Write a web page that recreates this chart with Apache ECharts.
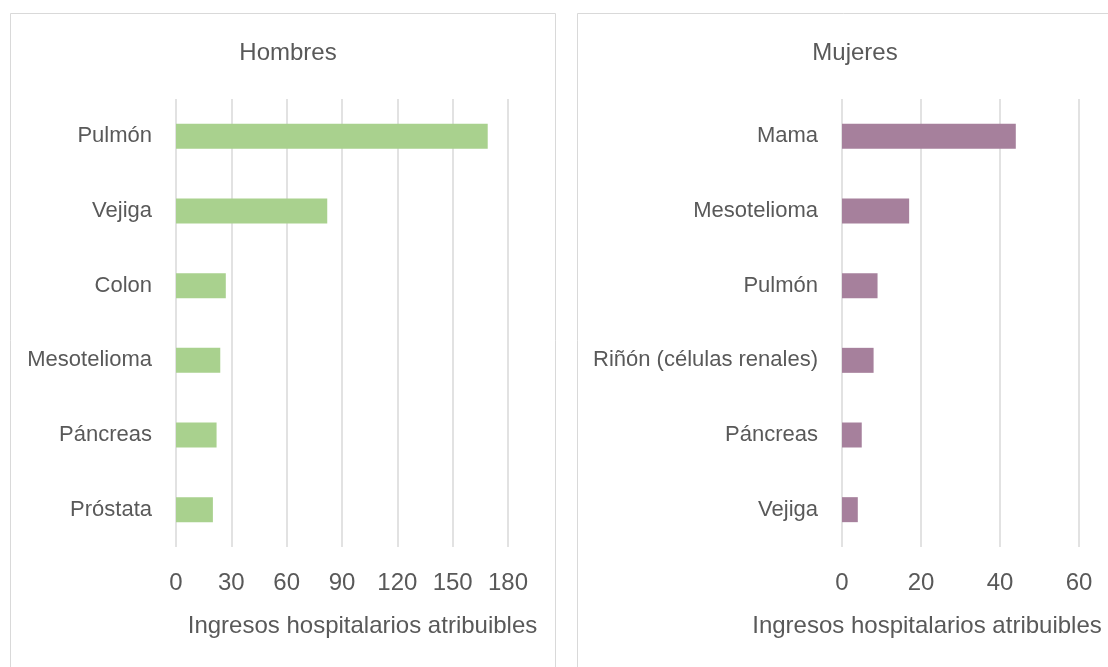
<!DOCTYPE html>
<html>
<head>
<meta charset="utf-8">
<script src="https://cdn.jsdelivr.net/npm/echarts@6/dist/echarts.min.js"></script>
<style>
  html, body { margin: 0; padding: 0; background: #ffffff; }
  #chart { width: 1108px; height: 667px; }
</style>
</head>
<body>
<div id="chart"></div>
<script>
// Ingresos hospitalarios atribuibles por tipo de cáncer
const hombresCategorias = ['Pulmón', 'Vejiga', 'Colon', 'Mesotelioma', 'Páncreas', 'Próstata'];
const hombresValores = [169, 82, 27, 24, 22, 20];
const mujeresCategorias = ['Mama', 'Mesotelioma', 'Pulmón', 'Riñón (células renales)', 'Páncreas', 'Vejiga'];
const mujeresValores = [44, 17, 9, 8, 5, 4];
const ejeNombre = 'Ingresos hospitalarios atribuibles';

const FONT = '"Liberation Sans Narrow", "Arial Narrow", "Liberation Sans", Arial, sans-serif';
const TEXT = '#595959';
const GRID_LINE = '#d9d9d9';

const chart = echarts.init(document.getElementById('chart'), null, { renderer: 'canvas' });

function catAxis(idx, cats) {
  return {
    type: 'category', gridIndex: idx, data: cats, inverse: true,
    axisLine: { show: false }, axisTick: { show: false },
    axisLabel: { color: TEXT, fontFamily: FONT, fontSize: 22, margin: 24 }
  };
}
function valAxis(idx, max, interval, namePad) {
  return {
    type: 'value', gridIndex: idx, min: 0, max: max, interval: interval,
    axisLine: { show: false }, axisTick: { show: false },
    splitLine: { show: true, lineStyle: { color: GRID_LINE, width: 1.5 } },
    axisLabel: { color: TEXT, fontFamily: FONT, fontSize: 24, margin: 24 },
    name: ejeNombre, nameLocation: 'middle', nameGap: 67,
    nameTextStyle: { color: TEXT, fontFamily: FONT, fontSize: 24, padding: namePad }
  };
}

chart.setOption({
  animation: false,
  backgroundColor: '#ffffff',
  title: [
    { text: 'Hombres', left: 283, top: 36, textAlign: 'center',
      textStyle: { color: TEXT, fontFamily: FONT, fontSize: 24, fontWeight: 'normal' } },
    { text: 'Mujeres', left: 850, top: 36, textAlign: 'center',
      textStyle: { color: TEXT, fontFamily: FONT, fontSize: 24, fontWeight: 'normal' } }
  ],
  graphic: [
    { type: 'rect', shape: { x: 10.5, y: 13.5, width: 545, height: 700 },
      style: { fill: 'none', stroke: GRID_LINE, lineWidth: 1 }, silent: true },
    { type: 'rect', shape: { x: 577.5, y: 13.5, width: 560, height: 700 },
      style: { fill: 'none', stroke: GRID_LINE, lineWidth: 1 }, silent: true }
  ],
  grid: [
    { left: 176, width: 332, top: 99, height: 448, outerBoundsMode: 'none' },
    { left: 842, width: 237, top: 99, height: 448, outerBoundsMode: 'none' }
  ],
  yAxis: [catAxis(0, hombresCategorias), catAxis(1, mujeresCategorias)],
  xAxis: [valAxis(0, 180, 30, [0, 0, 0, 41]), valAxis(1, 60, 20, [0, 67, 0, 0])],
  series: [
    { type: 'bar', xAxisIndex: 0, yAxisIndex: 0, data: hombresValores,
      barWidth: 25, itemStyle: { color: '#a9d18e' } },
    { type: 'bar', xAxisIndex: 1, yAxisIndex: 1, data: mujeresValores,
      barWidth: 25, itemStyle: { color: '#a6809c' } }
  ]
});
</script>
</body>
</html>
